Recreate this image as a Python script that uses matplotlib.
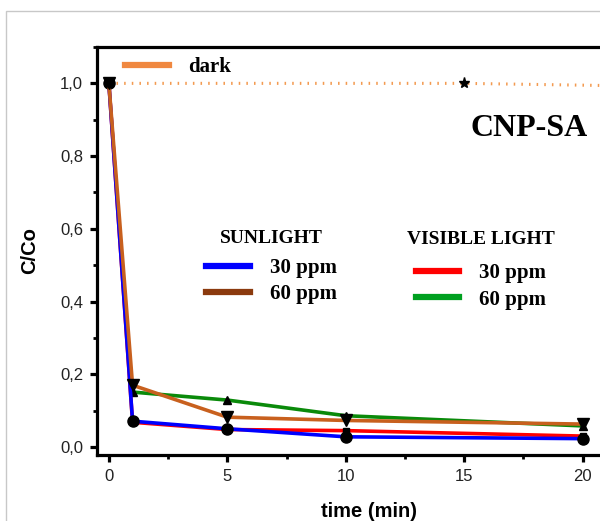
import matplotlib
matplotlib.use("Agg")
import matplotlib.pyplot as plt
from matplotlib.lines import Line2D
from matplotlib.patches import Rectangle
from matplotlib.ticker import FuncFormatter, MultipleLocator

# ---- data ----
t_sun30 = [0, 1, 5, 10, 20]
c_sun30 = [1.0, 0.071, 0.050, 0.028, 0.023]
t_sun60 = [0, 1, 5, 10, 20]
c_sun60 = [1.0, 0.170, 0.082, 0.073, 0.063]
t_vis30 = [0, 1, 5, 10, 20]
c_vis30 = [1.0, 0.068, 0.048, 0.045, 0.030]
t_vis60 = [1, 5, 10, 20]
c_vis60 = [0.151, 0.129, 0.086, 0.058]
t_dark = [0, 15, 30]
c_dark = [1.0, 1.0, 0.985]

x_ticks = [0, 5, 10, 15, 20]
y_ticks = [0.0, 0.2, 0.4, 0.6, 0.8, 1.0]

sun_title = "SUNLIGHT"
vis_title = "VISIBLE LIGHT"
labels = ["30 ppm", "60 ppm"]
dark_label = "dark"
sample = "CNP-SA"

serif = ["Liberation Serif", "DejaVu Serif"]
sans = ["Liberation Sans", "DejaVu Sans"]

fig = plt.figure(figsize=(6.0, 5.21), dpi=100)
# thin grey frame of the screenshot
fig.patches.append(Rectangle((0.010, -0.05), 1.2, 0.979 + 0.05, transform=fig.transFigure,
                             fill=False, edgecolor="#c8c8c8", linewidth=1.0))
ax = fig.add_axes([0.1617, 0.1267, 0.908, 0.7831])
ax.set_xlim(-0.5, 22.5)
ax.set_ylim(-0.022, 1.1)

lw = 2.6
ax.plot(t_dark, c_dark, color="#f39a50", lw=2.2, ls=(0, (0.5, 2.0)), zorder=1)
ax.plot(t_dark, c_dark, ls="none", marker="*", ms=8, color="black", zorder=6)
ax.plot(t_vis30, c_vis30, color="#ff0000", lw=lw, marker="s", ms=4,
        mfc="black", mec="black", zorder=2)
ax.plot(t_vis60, c_vis60, color="#0a8a0a", lw=lw, marker="^", ms=6,
        mfc="black", mec="black", zorder=2)
ax.plot(t_sun30, c_sun30, color="#0000ff", lw=lw, marker="o", ms=8,
        mfc="black", mec="black", zorder=3)
ax.plot(t_sun60, c_sun60, color="#c8601e", lw=lw, marker="v", ms=8,
        mfc="black", mec="black", zorder=4)

for s in ax.spines.values():
    s.set_linewidth(2.3)
ax.xaxis.set_major_locator(plt.FixedLocator(x_ticks))
ax.yaxis.set_major_locator(plt.FixedLocator(y_ticks))
ax.xaxis.set_minor_locator(MultipleLocator(2.5))
ax.yaxis.set_minor_locator(MultipleLocator(0.1))
ax.tick_params(which="major", direction="out", length=5, width=2.3, labelsize=12, pad=5)
ax.tick_params(which="minor", direction="out", length=3, width=2.0)
ax.yaxis.set_major_formatter(FuncFormatter(lambda v, p: f"{v:.1f}".replace(".", ",")))
for lab in ax.get_xticklabels() + ax.get_yticklabels():
    lab.set_fontfamily(sans)
    lab.set_color("#222222")

ax.set_xlabel("time (min)", fontsize=14.5, fontweight="bold", family=sans, labelpad=13)
ax.set_ylabel("C/Co", fontsize=14.5, fontweight="bold", family=sans, labelpad=15)

fp = {"family": serif, "weight": "bold", "size": 15}
common = dict(frameon=False, prop=fp, handlelength=2.1, handletextpad=0.95,
              labelspacing=0.3, borderpad=0, borderaxespad=0)

h_sun = [Line2D([], [], color="#0000ff", lw=4.5), Line2D([], [], color="#8b3a0e", lw=4.5)]
leg1 = fig.legend(h_sun, labels, loc="upper left", bbox_to_anchor=(206 / 600, 1 - 230 / 521),
                  title=sun_title, title_fontproperties={"family": serif, "weight": "bold", "size": 14},
                  **common)
h_vis = [Line2D([], [], color="#ff0000", lw=4.5), Line2D([], [], color="#00a020", lw=4.5)]
leg2 = fig.legend(h_vis, labels, loc="upper left", bbox_to_anchor=(407 / 600, 1 - 231 / 521),
                  title=vis_title, title_fontproperties={"family": serif, "weight": "bold", "size": 14},
                  **common)
leg1._legend_box.sep = 8
leg2._legend_box.sep = 11

h_dark = [Line2D([], [], color="#f08840", lw=4.5)]
leg3 = fig.legend(h_dark, [dark_label], loc="upper left",
                  bbox_to_anchor=(125 / 600, 1 - 57 / 521), **common)

fig.text(529 / 600, 1 - 129 / 521, sample, family=serif, weight="bold", size=23,
         ha="center", va="center")

fig.savefig("out.png", dpi=100)
